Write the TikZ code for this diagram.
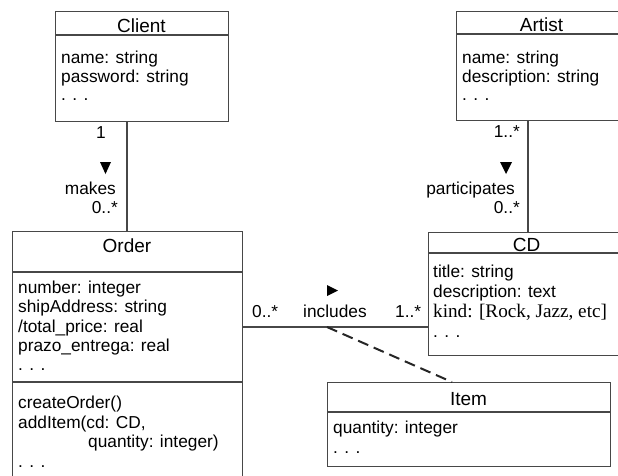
\documentclass[tikz,border=0pt]{standalone}
\usepackage{fontspec}
\setmainfont{Liberation Sans}
\newfontfamily\timesfont{Liberation Serif}
\begin{document}
\begin{tikzpicture}[x=1pt,y=-1pt,
        classbox/.style={draw=black!72,line width=1.3pt,rectangle,inner sep=0pt,anchor=north west},
        sepline/.style={draw=black!72,line width=1.3pt},
        assoc/.style={draw=black!72,line width=1.3pt},
        title/.style={anchor=base,inner sep=0pt,font=\fontsize{19}{21}\selectfont},
        attr/.style={anchor=base west,inner sep=0pt,font=\fontsize{17.3}{19}\selectfont},
        mult/.style={anchor=base east,inner sep=0pt,font=\fontsize{17.3}{19}\selectfont}]
    \useasboundingbox (0,0) rectangle (618,475);
    \clip (0,0) rectangle (618,475);

        \node[classbox,minimum width=173pt,minimum height=110pt] (client) at (55,11) {};
        \node[classbox,minimum width=171pt,minimum height=109pt] (artist) at (456,11) {};
        \node[classbox,minimum width=230pt,minimum height=270pt] (order) at (12,231) {};
        \node[classbox,minimum width=198pt,minimum height=123pt] (cd) at (428,232) {};
        \node[classbox,minimum width=283pt,minimum height=84pt] (item) at (327,382) {};

        \draw[sepline] ([yshift=-24pt]client.north west) -- ([yshift=-24pt]client.north east);
        \draw[sepline] ([yshift=-23pt]artist.north west) -- ([yshift=-23pt]artist.north east);
        \draw[sepline] ([yshift=-41pt]order.north west) -- ([yshift=-41pt]order.north east);
        \draw[sepline] ([yshift=-151pt]order.north west) -- ([yshift=-151pt]order.north east);
        \draw[sepline] ([yshift=-21pt]cd.north west) -- ([yshift=-21pt]cd.north east);
        \draw[sepline] ([yshift=-30pt]item.north west) -- ([yshift=-30pt]item.north east);

        \node[title] (clientname) at (141.5,32) {Client};
        \node[attr] (client1) at (61,63) {name: string};
        \node[attr] (client2) at (61,82) {password: string};
        \node[attr] (client3) at (61,100) {. . .};

        \node[title] (artistname) at (541.5,31) {Artist};
        \node[attr] (artist1) at (462,63) {name: string};
        \node[attr] (artist2) at (462,82) {description: string};
        \node[attr] (artist3) at (462,100) {. . .};

        \node[title] (ordername) at (127,252) {Order};
        \node[attr] (order1) at (18,293) {number: integer};
        \node[attr] (order2) at (18,312) {shipAddress: string};
        \node[attr] (order3) at (18,332) {/total\_price: real};
        \node[attr] (order4) at (18,351) {prazo\_entrega: real};
        \node[attr] (order5) at (18,370) {. . .};
        \node[attr] (order6) at (18,408) {createOrder()};
        \node[attr] (order7) at (18,428) {addItem(cd: CD,};
        \node[attr] (order8) at (88,447) {quantity: integer)};
        \node[attr] (order9) at (18,467) {. . .};

        \node[title] (cdname) at (526.5,251) {CD};
        \node[attr] (cd1) at (433,277) {title: string};
        \node[attr] (cd2) at (433,297) {description: text};
        \node[attr,font=\timesfont\fontsize{19.2}{21}\selectfont] (cd3) at (433,317) {kind: [Rock, Jazz, etc]};
        \node[attr] (cd4) at (433,337) {. . .};

        \node[title] (itemname) at (468.5,405) {Item};
        \node[attr] (item1) at (333,433) {quantity: integer};
        \node[attr] (item2) at (333,453) {. . .};

        \coordinate (mk) at (127,0);
        \coordinate (pt) at (528,0);
        \coordinate (inc) at (0,327);
        \coordinate (incmid) at (327,327);
        \coordinate (itm) at (452,0);

        \draw[assoc] (client.south -| mk) -- (order.north -| mk);
        \draw[assoc] (artist.south -| pt) -- (cd.north -| pt);
        \draw[assoc] (order.east |- inc) -- (cd.west |- inc);
        \draw[black!85,line width=2pt,dash pattern=on 11pt off 6pt] (incmid) -- (item.north -| itm);

        \node[mult] (mk1) at (106,138) {1};
        \fill (100,162) -- (111,162) -- (105.5,174) -- cycle;
        \node[mult] (mkname) at (116,194) {makes};
        \node[mult] (mk2) at (118,213) {0..*};

        \node[mult] (pt1) at (520,137) {1..*};
        \fill (500,162) -- (512,162) -- (506,174) -- cycle;
        \node[mult] (ptname) at (515,194) {participates};
        \node[mult] (pt2) at (520,213) {0..*};

        \node[attr] (inc1) at (252,317) {0..*};
        \fill (327,285) -- (338,290.5) -- (327,296) -- cycle;
        \node[attr] (incname) at (303,317) {includes};
        \node[attr] (inc2) at (395,317) {1..*};
    \end{tikzpicture}
\end{document}
